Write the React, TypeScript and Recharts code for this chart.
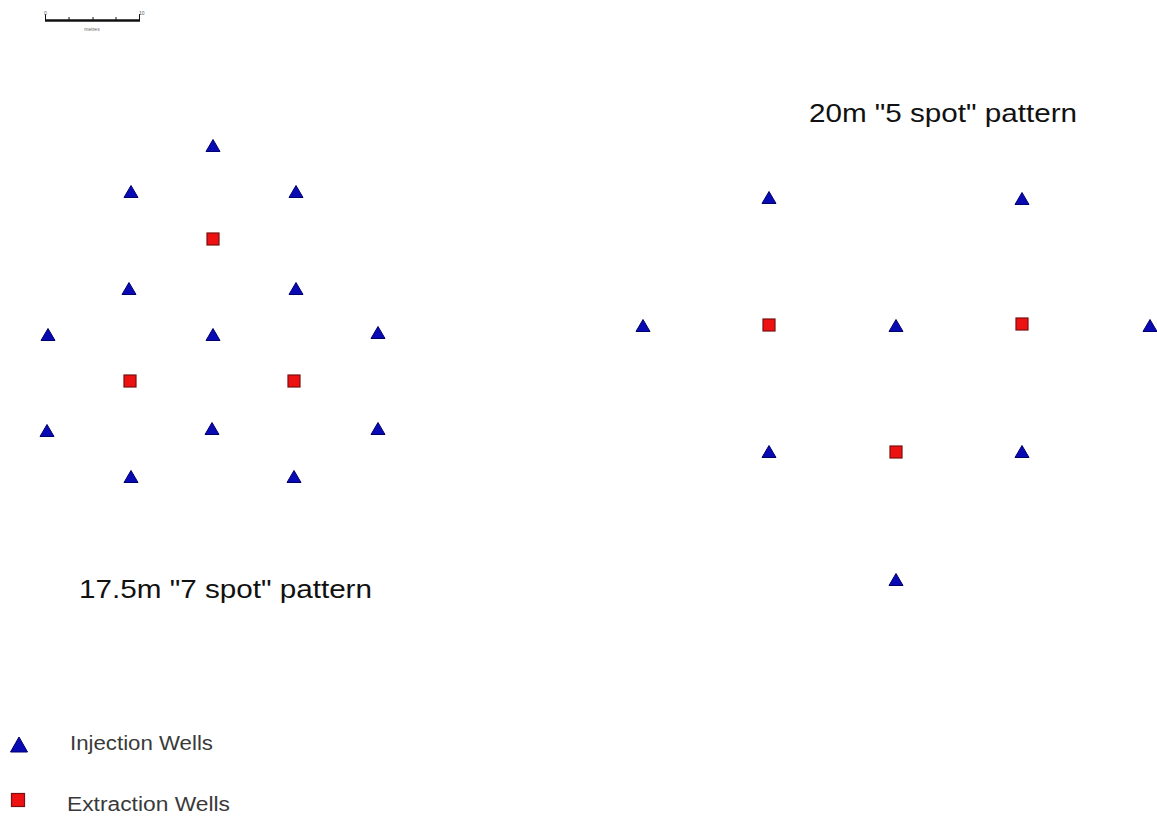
import React from "react";
import { ScatterChart, Scatter, XAxis, YAxis, Customized } from "recharts";

// Well positions in map units (east, south)
const injection7 = [
  { x: 213, y: 146 }, { x: 131, y: 192 }, { x: 296, y: 192 },
  { x: 129, y: 289 }, { x: 296, y: 289 },
  { x: 48, y: 335 }, { x: 213, y: 335 }, { x: 378, y: 333 },
  { x: 47, y: 431 }, { x: 212, y: 429 }, { x: 378, y: 429 },
  { x: 131, y: 477 }, { x: 294, y: 477 },
];
const extraction7 = [
  { x: 213, y: 239 }, { x: 130, y: 381 }, { x: 294, y: 381 },
];
const injection5 = [
  { x: 769, y: 198 }, { x: 1022, y: 199 },
  { x: 643, y: 326 }, { x: 896, y: 326 }, { x: 1150, y: 326 },
  { x: 769, y: 452 }, { x: 1022, y: 452 },
  { x: 896, y: 580 },
];
const extraction5 = [
  { x: 769, y: 325 }, { x: 1022, y: 324 }, { x: 896, y: 452 },
];
const seriesNames = ["Injection Wells", "Extraction Wells"];
const patternLabels = ['20m "5 spot" pattern', '17.5m "7 spot" pattern'];
const scaleLabels = ["0", "10", "metres"];

const W = 1157;
const H = 816;
const BLUE = "#0a0ab4";
const RED = "#ee1111";
const FONT = "Liberation Sans, Arial, sans-serif";

const makeTri = (hw: number, up: number, down: number) => (props: any) => {
  const { cx, cy } = props;
  if (cx == null || cy == null) return null;
  return (
    <polygon
      points={`${cx},${cy - up} ${cx - hw},${cy + down} ${cx + hw},${cy + down}`}
      fill={BLUE}
      stroke="#00006a"
      strokeWidth={1}
    />
  );
};
const makeSq = (s: number) => (props: any) => {
  const { cx, cy } = props;
  if (cx == null || cy == null) return null;
  return <rect x={cx - s / 2} y={cy - s / 2} width={s} height={s} fill={RED} stroke="#7a1010" strokeWidth={1.2} />;
};
const Tri = makeTri(7, 6.5, 5.5);
const Sq = makeSq(12);
const LegTri = makeTri(8.5, 8, 7);
const LegSq = makeSq(13);

const Annotations = () => (
  <g>
    <text x={809} y={122} fontFamily={FONT} fontSize={26.5} fill="#111" textLength={268} lengthAdjust="spacingAndGlyphs">
      {patternLabels[0]}
    </text>
    <text x={79} y={598} fontFamily={FONT} fontSize={26} fill="#111" textLength={293} lengthAdjust="spacingAndGlyphs">
      {patternLabels[1]}
    </text>
    {/* scale bar */}
    <g stroke="#111" fill="none">
      <line x1={45} y1={20.5} x2={140} y2={20.5} strokeWidth={2.5} />
      <line x1={45.5} y1={14} x2={45.5} y2={20} strokeWidth={1} />
      <line x1={69} y1={17} x2={69} y2={20} strokeWidth={1} />
      <line x1={93} y1={17} x2={93} y2={20} strokeWidth={1} />
      <line x1={116} y1={17} x2={116} y2={20} strokeWidth={1} />
      <line x1={139.5} y1={14} x2={139.5} y2={20} strokeWidth={1} />
    </g>
    <text x={44} y={15} fontFamily={FONT} fontSize={5} fill="#555">{scaleLabels[0]}</text>
    <text x={139} y={15} fontFamily={FONT} fontSize={5} fill="#555">{scaleLabels[1]}</text>
    <text x={92} y={31} textAnchor="middle" fontFamily={FONT} fontSize={5} fill="#666">{scaleLabels[2]}</text>
  </g>
);

const LegendBox = () => (
  <svg width={260} height={96} style={{ position: "absolute", left: 0, top: 720 }}>
    <LegTri cx={19} cy={25} />
    <LegSq cx={18} cy={80} />
    <text x={70} y={30} fontFamily={FONT} fontSize={20} fill="#3a3a3a" textLength={143} lengthAdjust="spacingAndGlyphs">
      {seriesNames[0]}
    </text>
    <text x={67} y={91} fontFamily={FONT} fontSize={20} fill="#3a3a3a" textLength={163} lengthAdjust="spacingAndGlyphs">
      {seriesNames[1]}
    </text>
  </svg>
);

export default function App() {
  return (
    <div style={{ position: "absolute", left: 0, top: 0, width: W, height: H, background: "#fff" }}>
      <ScatterChart width={W} height={H} margin={{ top: 0, right: 0, bottom: 0, left: 0 }}>
        <XAxis type="number" dataKey="x" domain={[0, W]} hide allowDataOverflow />
        <YAxis type="number" dataKey="y" domain={[0, H]} reversed hide allowDataOverflow />
        <Scatter name={seriesNames[0]} data={injection7} shape={<Tri />} isAnimationActive={false} />
        <Scatter name={seriesNames[1]} data={extraction7} shape={<Sq />} isAnimationActive={false} />
        <Scatter name={seriesNames[0] + " (5 spot)"} data={injection5} shape={<Tri />} isAnimationActive={false} />
        <Scatter name={seriesNames[1] + " (5 spot)"} data={extraction5} shape={<Sq />} isAnimationActive={false} />
        <Customized component={Annotations} />
      </ScatterChart>
      <LegendBox />
    </div>
  );
}
